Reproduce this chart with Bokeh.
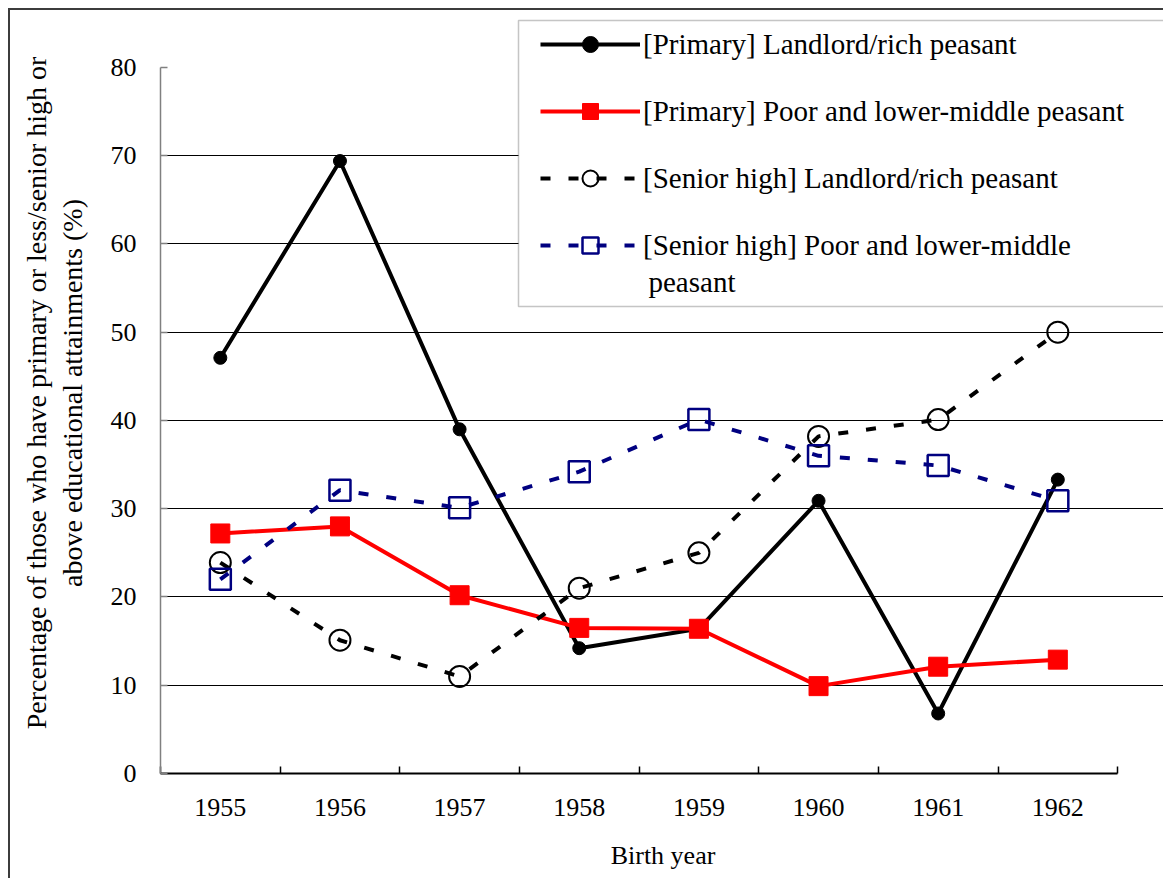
from bokeh.plotting import figure
from bokeh.models import FixedTicker, Legend, LegendItem, Range1d, LinearAxis, BoxAnnotation, Label
from bokeh.embed import file_html
from bokeh.resources import INLINE

years = [1955, 1956, 1957, 1958, 1959, 1960, 1961, 1962]
year_labels = ["1955", "1956", "1957", "1958", "1959", "1960", "1961", "1962"]
primary_landlord = [47.1, 69.4, 39.0, 14.2, 16.4, 30.9, 6.8, 33.3]
primary_poor = [27.2, 28.0, 20.2, 16.5, 16.4, 9.9, 12.1, 12.9]
senior_landlord = [23.9, 15.1, 11.0, 21.0, 25.0, 38.2, 40.1, 50.0]
senior_poor = [22.0, 32.1, 30.1, 34.2, 40.1, 36.0, 34.9, 30.9]
y_ticks = [0, 10, 20, 30, 40, 50, 60, 70, 80]
series_names = [
    "[Primary] Landlord/rich peasant",
    "[Primary] Poor and lower-middle peasant",
    "[Senior high] Landlord/rich peasant",
    "[Senior high] Poor and lower-middle",
]
series_name_tail = "peasant"
y_title_1 = "Percentage of those who have primary or less/senior high or"
y_title_2 = "above educational attainments (%)"
x_title = "Birth year"

FONT = "Liberation Serif"
LEGEND_FONT = "Times New Roman"
TAIL_FONT = "Times"

# layout (page pixels)
FRAME_LEFT, FRAME_TOP, FRAME_BOTTOM, FRAME_RIGHT = 160, 12, 773, 1165
X0, X1 = 1954.5, 1962.9
Y0, Y1 = 0, 86.23
PX_X = (FRAME_RIGHT - FRAME_LEFT) / (X1 - X0)
PX_Y = (FRAME_BOTTOM - FRAME_TOP) / (Y1 - Y0)


def dx(px):
    return X0 + (px - FRAME_LEFT) / PX_X


def dy(py):
    return Y0 + (FRAME_BOTTOM - py) / PX_Y


p = figure(width=1155, height=870, output_backend="svg", toolbar_location=None,
           x_range=Range1d(X0, X1), y_range=Range1d(Y0, Y1),
           min_border_left=150, min_border_top=2, min_border_right=0,
           min_border_bottom=107)
p.styles = {"margin-top": "8px", "margin-left": "8px",
            "border-top": "2px solid #3c3c3c", "border-left": "2px solid #3c3c3c"}
p.outline_line_color = None
p.background_fill_color = "white"
p.border_fill_color = "white"

# x axis
p.xaxis.bounds = (1954.5, 1962.5)
p.xaxis.ticker = FixedTicker(ticks=years,
                             minor_ticks=[y - 0.5 for y in years] + [years[-1] + 0.5])
p.xaxis.major_label_overrides = {y: l for y, l in zip(years, year_labels)}
p.xaxis.major_tick_in = 0
p.xaxis.major_tick_out = 0
p.xaxis.minor_tick_in = 7
p.xaxis.minor_tick_out = 0
p.xaxis.minor_tick_line_color = "black"
p.xaxis.minor_tick_line_width = 1.5
p.xaxis.axis_line_color = "black"
p.xaxis.axis_line_width = 2
p.xaxis.major_label_text_font = FONT
p.xaxis.major_label_text_font_size = "26px"
p.xaxis.major_label_text_color = "black"
p.xaxis.major_label_standoff = 25
p.xaxis.axis_label = x_title
p.xaxis.axis_label_text_font = FONT
p.xaxis.axis_label_text_font_size = "26px"
p.xaxis.axis_label_text_font_style = "normal"
p.xaxis.axis_label_text_color = "black"
p.xaxis.axis_label_standoff = 22

# y axis
p.yaxis.bounds = (0, 80)
p.yaxis.ticker = FixedTicker(ticks=y_ticks, minor_ticks=[])
p.yaxis.major_tick_in = 7
p.yaxis.major_tick_out = 0
p.yaxis.major_tick_line_color = "#808080"
p.yaxis.major_tick_line_width = 1.5
p.yaxis.minor_tick_line_color = None
p.yaxis.axis_line_color = "#808080"
p.yaxis.axis_line_width = 1.5
p.yaxis.major_label_text_font = FONT
p.yaxis.major_label_text_font_size = "26px"
p.yaxis.major_label_text_color = "black"
p.yaxis.major_label_standoff = 24
p.yaxis.axis_label = y_title_2
p.yaxis.axis_label_text_font = FONT
p.yaxis.axis_label_text_font_size = "28px"
p.yaxis.axis_label_text_font_style = "normal"
p.yaxis.axis_label_text_color = "black"
p.yaxis.axis_label_standoff = 20

# outer title line as a label-only axis
y_title_axis = LinearAxis(ticker=FixedTicker(ticks=[], minor_ticks=[]),
                          bounds=(0, 80), axis_label=y_title_1)
y_title_axis.axis_line_color = None
y_title_axis.major_tick_line_color = None
y_title_axis.minor_tick_line_color = None
y_title_axis.major_label_text_font_size = "0px"
y_title_axis.major_label_standoff = 0
y_title_axis.axis_label_standoff = 2
y_title_axis.axis_label_text_font = FONT
y_title_axis.axis_label_text_font_size = "28px"
y_title_axis.axis_label_text_font_style = "normal"
y_title_axis.axis_label_text_color = "black"
p.add_layout(y_title_axis, "left")

# grid
p.xgrid.visible = False
p.ygrid.ticker = FixedTicker(ticks=y_ticks[1:-1])
p.ygrid.grid_line_color = "black"
p.ygrid.grid_line_width = 1
p.ygrid.bounds = (1954.5, 1962.5)

# series
l1 = p.line(years, primary_landlord, line_color="black", line_width=4)
m1 = p.scatter(years, primary_landlord, marker="circle", size=13,
               fill_color="black", line_color="black")
l2 = p.line(years, primary_poor, line_color="#ff0000", line_width=4)
m2 = p.scatter(years, primary_poor, marker="square", size=19,
               fill_color="#ff0000", line_color="#ff0000")
l3 = p.line(years, senior_landlord, line_color="black", line_width=4, line_dash="10 18")
m3 = p.scatter(years, senior_landlord, marker="circle", size=21,
               fill_alpha=0, line_color="black", line_width=2)
l4 = p.line(years, senior_poor, line_color="#000080", line_width=4, line_dash="10 18")
m4 = p.scatter(years, senior_poor, marker="square", size=21,
               fill_alpha=0, line_color="#000080", line_width=2.5)

# legend box
box = BoxAnnotation(left=dx(518), right=X1 + 1, top=dy(20), bottom=dy(306),
                    fill_color="white", fill_alpha=1,
                    line_color="#404040", line_width=1.5)
p.add_layout(box)

legend = Legend(items=[
    LegendItem(label=series_names[0], renderers=[l1, m1]),
    LegendItem(label=series_names[1], renderers=[l2, m2]),
    LegendItem(label=series_names[2], renderers=[l3, m3]),
    LegendItem(label=series_names[3], renderers=[l4, m4]),
], location=(380, FRAME_BOTTOM - 265))
legend.label_text_font = LEGEND_FONT
legend.label_text_font_size = "29px"
legend.label_text_color = "black"
legend.glyph_width = 100
legend.glyph_height = 40
legend.label_standoff = 3
legend.padding = 5
legend.spacing = 27
legend.margin = 0
legend.label_width = 560
legend.border_line_color = None
legend.background_fill_alpha = 0
p.add_layout(legend, "center")

tail = Label(x=dx(648), y=dy(281), text=series_name_tail,
             text_font=TAIL_FONT, text_font_size="29px", text_color="black",
             text_baseline="middle", text_align="left")
p.add_layout(tail)

open("out.html", "w").write(file_html(p, INLINE))
